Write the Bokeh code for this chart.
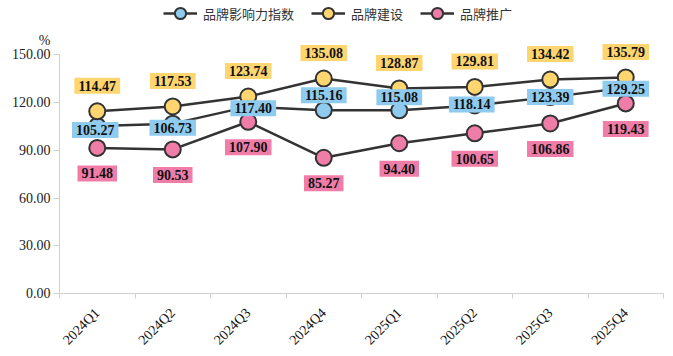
import numpy as np
from bokeh.plotting import figure
from bokeh.models import (ColumnDataSource, Range1d, LinearAxis,
                          FixedTicker, NumeralTickFormatter, Legend, LegendItem)
from bokeh.core.properties import value
from bokeh.embed import file_html
from bokeh.resources import INLINE

# ---- data ----
categories = ["2024Q1", "2024Q2", "2024Q3", "2024Q4", "2025Q1", "2025Q2", "2025Q3", "2025Q4"]
influence = [105.27, 106.73, 117.40, 115.16, 115.08, 118.14, 123.39, 129.25]
building = [114.47, 117.53, 123.74, 135.08, 128.87, 129.81, 134.42, 135.79]
promotion = [91.48, 90.53, 107.90, 85.27, 94.40, 100.65, 106.86, 119.43]
series_names = ["品牌影响力指数", "品牌建设", "品牌推广"]
y_ticks = [0, 30, 60, 90, 120, 150]
y_unit = "%"

# ---- label placement (pixels, + = down) ----
influence_dy = [4, 4, 1.5, -15, -13, -1, 0, 1]
influence_dx = [-2, 0, 5, 0, 0, -3, 0, 0]
unit_pos = 159.0   # height (in axis units) where the "%" unit sits

BLUE = "#8ECBEF"
YELLOW = "#FFD56F"
PINK = "#F07CA8"
DARK = "#333333"
AXIS = "#d0d0d0"
SERIF = "Liberation Serif"

n = len(categories)
xc = [i + 0.5 for i in range(n)]          # category centres on a 0..n band scale

p = figure(frame_width=604, frame_height=293, x_range=Range1d(0, n), y_range=Range1d(0, 184.1),
           output_backend="svg", toolbar_location=None,
           x_axis_location=None, y_axis_location=None,
           min_border_left=59, min_border_right=10, min_border_top=0, min_border_bottom=63)
for g in p.grid:
    g.visible = False
p.outline_line_color = None

xaxis = LinearAxis(ticker=FixedTicker(ticks=xc, minor_ticks=list(range(n + 1))),
                   major_label_overrides={c: lab for c, lab in zip(xc, categories)},
                   axis_line_color=AXIS, major_tick_line_color=None, major_tick_in=0, major_tick_out=5,
                   minor_tick_line_color=AXIS, minor_tick_in=0, minor_tick_out=5,
                   major_label_orientation=np.pi / 4, major_label_standoff=12,
                   major_label_text_font=SERIF, major_label_text_font_size="14px",
                   major_label_text_color="#111111")
p.add_layout(xaxis, "below")

# inner left axis: line + tick marks only (0..150)
yline = LinearAxis(ticker=FixedTicker(ticks=[], minor_ticks=y_ticks), bounds=(0, 150),
                   axis_line_color=AXIS, major_tick_line_color=None, major_tick_in=0, major_tick_out=0,
                   minor_tick_line_color=AXIS, minor_tick_in=0, minor_tick_out=6,
                   major_label_standoff=0)
p.add_layout(yline, "left")

# outer left axis: tick labels and the unit
ylab = LinearAxis(ticker=FixedTicker(ticks=y_ticks + [unit_pos]),
                  formatter=NumeralTickFormatter(format="0.00"),
                  major_label_overrides={unit_pos: y_unit},
                  axis_line_color=None, major_tick_line_color=None, major_tick_in=0, major_tick_out=0,
                  minor_tick_line_color=None, major_label_standoff=3,
                  major_label_text_font=SERIF, major_label_text_font_size="14px",
                  major_label_text_color="#222222")
p.add_layout(ylab, "left")

series = [
    (series_names[0], influence, BLUE),
    (series_names[1], building, YELLOW),
    (series_names[2], promotion, PINK),
]

lines = []
for name, vals, col in series:
    lines.append(p.line(x=xc, y=vals, line_color=DARK, line_width=2.5))
points = []
for name, vals, col in series:
    points.append(p.scatter(x=xc, y=vals, size=16, fill_color=col, line_color=DARK, line_width=2))

def add_labels(vals, col, dx, dy):
    src = ColumnDataSource(dict(x=xc, y=vals, t=[f"{v:.2f}" for v in vals], dx=dx, dy=dy))
    p.text(x="x", y="y", text="t", source=src, x_offset="dx", y_offset="dy",
           text_font=value(SERIF), text_font_style="bold", text_font_size="14px",
           text_color="#111111", text_align="center", text_baseline="middle",
           background_fill_color=col, padding=dict(left=4, right=4, top=3, bottom=3))

add_labels(building, YELLOW, [0] * n, [-25.5] * n)
add_labels(promotion, PINK, [0] * n, [25.5] * n)
add_labels(influence, BLUE, influence_dx, influence_dy)

legend = Legend(items=[LegendItem(label=nm, renderers=[lines[i], points[i]]) for i, nm in enumerate(series_names)],
                orientation="horizontal", location=(104, 266),
                background_fill_alpha=0, border_line_color=None,
                label_text_font="Noto Sans CJK SC", label_text_font_size="13px", label_text_color=DARK,
                glyph_width=34, glyph_height=28, label_height=14, label_standoff=6, spacing=17,
                padding=0, margin=0)
p.add_layout(legend)

open("out.html", "w").write(file_html(p, INLINE))
